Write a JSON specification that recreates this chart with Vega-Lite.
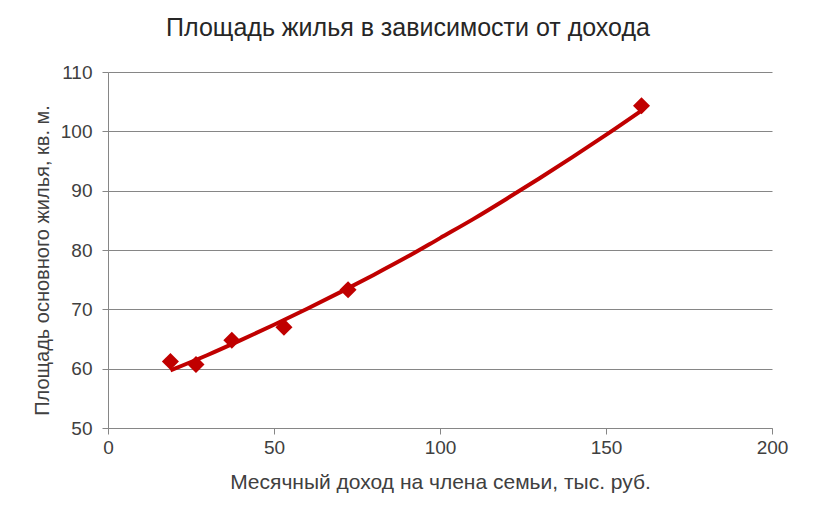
{
  "$schema": "https://vega.github.io/schema/vega-lite/v6.json",
  "width": 664,
  "height": 356,
  "autosize": "none",
  "padding": {"left": 108, "top": 72, "right": 41, "bottom": 92},
  "background": "white",
  "config": {
    "font": "Liberation Sans",
    "view": {"stroke": null}
  },
  "title": {
    "text": "Площадь жилья в зависимости от дохода",
    "fontSize": 25,
    "fontWeight": "normal",
    "color": "#262626",
    "anchor": "middle",
    "frame": "group",
    "dx": -32,
    "offset": 22
  },
  "datasets": {
    "points": [
      {"income": 18.8, "area": 61.2},
      {"income": 26.5, "area": 60.7},
      {"income": 37.3, "area": 64.8},
      {"income": 53.0, "area": 67.0},
      {"income": 72.3, "area": 73.3},
      {"income": 160.7, "area": 104.3}
    ],
    "trend": [
      {"income": 18.8, "area": 59.7},
      {"income": 30, "area": 62.3},
      {"income": 40, "area": 64.8},
      {"income": 50, "area": 67.4},
      {"income": 60, "area": 70.1},
      {"income": 70, "area": 72.9},
      {"income": 80, "area": 75.8},
      {"income": 90, "area": 78.8},
      {"income": 100, "area": 82.0},
      {"income": 110, "area": 85.2},
      {"income": 120, "area": 88.6},
      {"income": 130, "area": 92.1},
      {"income": 140, "area": 95.7},
      {"income": 150, "area": 99.4},
      {"income": 160.7, "area": 103.5}
    ]
  },
  "layer": [
    {
      "data": {"name": "trend"},
      "mark": {"type": "line", "color": "#C00000", "strokeWidth": 4, "interpolate": "monotone"},
      "encoding": {
        "x": {
          "field": "income", "type": "quantitative",
          "scale": {"domain": [0, 200], "nice": false},
          "axis": {
            "title": "Месячный доход на члена семьи, тыс. руб.",
            "values": [0, 50, 100, 150, 200],
            "grid": false,
            "labelFlush": false,
            "domainColor": "#868686",
            "tickColor": "#868686",
            "tickSize": 6,
            "labelFontSize": 19,
            "labelColor": "#404040",
            "labelPadding": 4,
            "titleFontSize": 21,
            "titleFontWeight": "normal",
            "titleColor": "#404040",
            "titlePadding": 14
          }
        },
        "y": {
          "field": "area", "type": "quantitative",
          "scale": {"domain": [50, 110], "nice": false, "zero": false},
          "axis": {
            "title": "Площадь основного жилья, кв. м.",
            "values": [50, 60, 70, 80, 90, 100, 110],
            "grid": true,
            "labelFlush": false,
            "domainColor": "#868686",
            "gridColor": "#868686",
            "gridWidth": 1,
            "tickColor": "#868686",
            "tickSize": 6,
            "labelFontSize": 19,
            "labelColor": "#404040",
            "labelPadding": 10,
            "titleFontSize": 20,
            "titleFontWeight": "normal",
            "titleColor": "#404040",
            "titlePadding": 8,
            "titleY": 188
          }
        }
      }
    },
    {
      "data": {"name": "points"},
      "mark": {"type": "point", "shape": "diamond", "filled": true, "opacity": 1, "size": 290, "color": "#C00000"},
      "encoding": {
        "x": {"field": "income", "type": "quantitative"},
        "y": {"field": "area", "type": "quantitative"}
      }
    }
  ]
}
